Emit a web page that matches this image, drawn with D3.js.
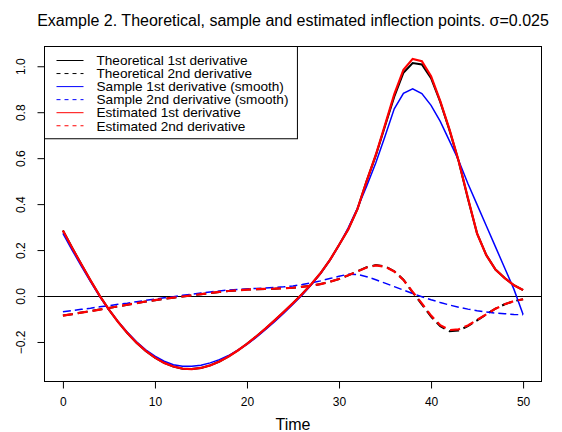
<!DOCTYPE html>
<meta charset="utf-8">
<style>
body { margin: 0; background: #fff; }
text { font-family: "Liberation Sans", Arial, Helvetica, sans-serif; fill: #000; }
.line { fill: none; }
</style>
<body>
<script src="https://d3js.org/d3.v7.min.js"></script>
<script>

// time points (x values)
var time = [0,1,2,3,4,5,6,7,8,9,10,11,12,13,14,15,16,17,18,19,20,21,22,23,24,25,
            26,27,28,29,30,31,32,33,34,35,36,37,38,39,40,41,42,43,44,45,46,47,48,49,50];

// theoretical 1st / 2nd derivative
var theo1 = [0.285,0.210,0.138,0.068,0.001,-0.059,-0.113,-0.161,-0.203,-0.239,-0.268,-0.291,-0.307,-0.316,-0.318,
             -0.313,-0.302,-0.285,-0.263,-0.237,-0.208,-0.176,-0.142,-0.106,-0.069,-0.031,0.009,0.052,0.100,0.156,
             0.222,0.290,0.378,0.500,0.612,0.740,0.868,0.972,1.014,1.008,0.948,0.845,0.722,0.586,0.424,0.272,
             0.178,0.115,0.078,0.047,0.026];
var theo2 = [-0.085,-0.079,-0.072,-0.066,-0.059,-0.052,-0.045,-0.038,-0.031,-0.024,-0.018,-0.012,-0.007,-0.002,0.003,
             0.008,0.013,0.018,0.022,0.025,0.028,0.030,0.031,0.032,0.034,0.036,0.040,0.045,0.052,0.062,
             0.074,0.090,0.108,0.125,0.135,0.129,0.108,0.071,0.016,-0.036,-0.090,-0.131,-0.153,-0.150,-0.131,-0.106,
             -0.080,-0.055,-0.036,-0.022,-0.014];

// sample derivatives (smooth)
var samp1 = [0.273,0.200,0.130,0.063,-0.002,-0.060,-0.112,-0.158,-0.199,-0.234,-0.262,-0.284,-0.299,-0.306,-0.306,
             -0.301,-0.291,-0.277,-0.259,-0.236,-0.210,-0.180,-0.147,-0.112,-0.075,-0.036,0.005,0.049,0.098,0.155,
             0.221,0.297,0.382,0.478,0.580,0.695,0.815,0.882,0.902,0.881,0.830,0.760,0.675,0.590,0.490,0.398,
             0.306,0.214,0.122,0.030,-0.080];
var samp2 = [-0.068,-0.063,-0.058,-0.053,-0.047,-0.042,-0.036,-0.031,-0.025,-0.019,-0.014,-0.008,-0.003,0.003,0.008,
             0.013,0.018,0.022,0.026,0.029,0.031,0.033,0.035,0.037,0.040,0.044,0.050,0.057,0.066,0.076,
             0.086,0.095,0.094,0.084,0.071,0.056,0.041,0.026,0.011,-0.003,-0.016,-0.028,-0.039,-0.049,-0.057,-0.064,
             -0.070,-0.074,-0.077,-0.080,-0.082];

// estimated derivatives
var est1 = [0.285,0.210,0.138,0.068,0.001,-0.059,-0.113,-0.161,-0.203,-0.239,-0.268,-0.291,-0.307,-0.316,-0.318,
            -0.313,-0.302,-0.285,-0.263,-0.237,-0.208,-0.176,-0.142,-0.106,-0.069,-0.031,0.009,0.052,0.100,0.156,
            0.222,0.290,0.378,0.500,0.615,0.745,0.878,0.985,1.032,1.022,0.957,0.848,0.725,0.588,0.428,0.272,
            0.178,0.115,0.078,0.047,0.026];
var est2 = [-0.085,-0.079,-0.072,-0.066,-0.059,-0.052,-0.045,-0.038,-0.031,-0.024,-0.018,-0.012,-0.007,-0.002,0.003,
            0.008,0.013,0.018,0.022,0.025,0.028,0.030,0.031,0.032,0.034,0.036,0.040,0.045,0.052,0.062,
            0.074,0.090,0.107,0.124,0.133,0.128,0.107,0.070,0.018,-0.032,-0.085,-0.127,-0.148,-0.145,-0.128,-0.104,
            -0.080,-0.055,-0.036,-0.022,-0.014];

var xTicks = [0, 10, 20, 30, 40, 50];
var yTicks = [-0.2, 0.0, 0.2, 0.4, 0.6, 0.8, 1.0];

var series = [
  {name: "Theoretical 1st derivative",      values: theo1, color: "#000000", width: 2,   dash: null},
  {name: "Theoretical 2nd derivative",      values: theo2, color: "#000000", width: 2,   dash: "10,5"},
  {name: "Sample 1st derivative (smooth)",  values: samp1, color: "#0000ff", width: 1.5, dash: null},
  {name: "Sample 2nd derivative (smooth)",  values: samp2, color: "#0000ff", width: 1.5, dash: "8,4"},
  {name: "Estimated 1st derivative",        values: est1,  color: "#ff0000", width: 2.2, dash: null},
  {name: "Estimated 2nd derivative",        values: est2,  color: "#ff0000", width: 2.2, dash: "10,5"}
];

// set the dimensions and margins of the graph
var margin = {top: 46.5, right: 20.5, bottom: 50.5, left: 44.5},
    width = 562 - margin.left - margin.right,
    height = 432 - margin.top - margin.bottom;

// R style 4% padding around the data range
function pad(ext) {
  var d = (ext[1] - ext[0]) * 0.04;
  return [ext[0] - d, ext[1] + d];
}

var allY = [].concat(theo1, theo2, samp1, samp2, est1, est2);
var x = d3.scaleLinear().domain(pad(d3.extent(time))).range([0, width]);
var y = d3.scaleLinear().domain(pad(d3.extent(allY))).range([height, 0]);

var svg = d3.select("body").append("svg")
    .attr("width", 562)
    .attr("height", 432);

var g = svg.append("g")
    .attr("transform", "translate(" + margin.left + "," + margin.top + ")");

// title
svg.append("text")
    .attr("x", margin.left + width / 2)
    .attr("y", 26)
    .attr("text-anchor", "middle")
    .style("font-size", "16px")
    .text("Example 2. Theoretical, sample and estimated inflection points. \u03c3=0.025");

// x axis
var xAxis = g.append("g")
    .attr("transform", "translate(0," + height + ")")
    .call(d3.axisBottom(x).tickValues(xTicks).tickSize(7).tickPadding(9).tickSizeOuter(0));
xAxis.select(".domain").remove();
xAxis.selectAll("text").style("font-size", "12px").attr("fill", "#000");

// y axis, labels turned like R does
var yAxis = g.append("g")
    .call(d3.axisLeft(y).tickValues(yTicks).tickSize(7).tickSizeOuter(0).tickFormat(d3.format(".1f")));
yAxis.select(".domain").remove();
yAxis.selectAll("text")
    .style("font-size", "12px")
    .attr("fill", "#000")
    .attr("x", 0)
    .attr("dy", 0)
    .attr("text-anchor", "middle")
    .attr("transform", "translate(-19.5,0) rotate(-90)")
    .text(function(d) { return d3.format(".1f")(d).replace("-", "\u2212"); });

// x label
svg.append("text")
    .attr("x", margin.left + width / 2)
    .attr("y", 429.5)
    .attr("text-anchor", "middle")
    .style("font-size", "16px")
    .text("Time");

// horizontal zero line
g.append("line")
    .attr("x1", 0).attr("x2", width)
    .attr("y1", Math.round(y(0))).attr("y2", Math.round(y(0)))
    .attr("stroke", "#000").attr("stroke-width", 1);

// the curves
var line = d3.line()
    .x(function(d, i) { return x(time[i]); })
    .y(function(d) { return y(d); });

series.forEach(function(s) {
  g.append("path")
      .datum(s.values)
      .attr("class", "line")
      .attr("stroke", s.color)
      .attr("stroke-width", s.width)
      .attr("stroke-dasharray", s.dash)
      .attr("d", line);
});

// plot box
g.append("rect")
    .attr("width", width).attr("height", height)
    .attr("fill", "none").attr("stroke", "#000");

// legend (top left, like R legend())
var rowH = 13.05, legFont = 13.6;
var leg = g.append("g");
var legText = leg.selectAll("text.leg")
    .data(series)
  .enter().append("text")
    .attr("class", "leg")
    .attr("x", 52)
    .attr("y", function(d, i) { return 14 + i * rowH; })
    .attr("dy", "0.35em")
    .style("font-size", legFont + "px")
    .text(function(d) { return d.name; });

var maxW = d3.max(legText.nodes(), function(n) { return n.getComputedTextLength(); });

leg.insert("rect", "text")
    .attr("x", 0).attr("y", 0)
    .attr("width", 52 + maxW + 9)
    .attr("height", 14 + 5 * rowH + 13)
    .attr("fill", "#fff").attr("stroke", "#000");

leg.selectAll("line.leg")
    .data(series)
  .enter().append("line")
    .attr("class", "leg")
    .attr("x1", 12).attr("x2", 39)
    .attr("y1", function(d, i) { return 14 + i * rowH; })
    .attr("y2", function(d, i) { return 14 + i * rowH; })
    .attr("stroke", function(d) { return d.color; })
    .attr("stroke-width", 1)
    .attr("stroke-dasharray", function(d) { return d.dash ? "4,4" : null; });

</script>
</body>
